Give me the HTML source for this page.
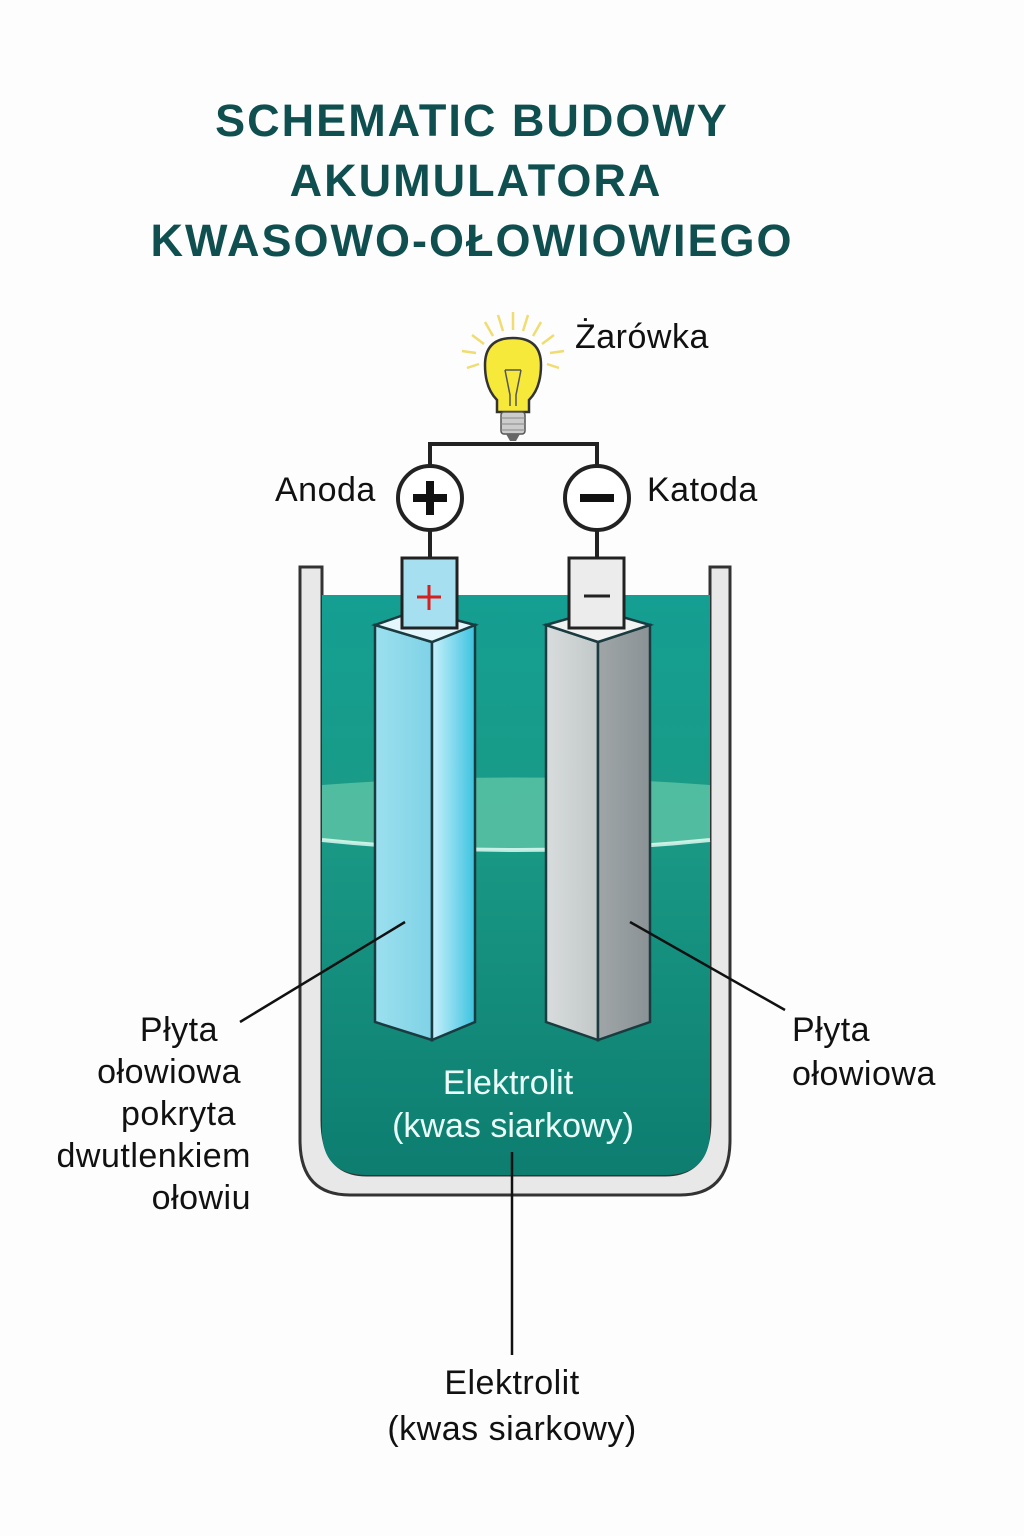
<!DOCTYPE html>
<html><head><meta charset="utf-8"><style>
body{margin:0;background:#fdfdfd;}
svg{display:block}
text{font-family:"Liberation Sans",sans-serif;}
</style></head><body>
<svg width="1024" height="1536" viewBox="0 0 1024 1536">
<defs>
<linearGradient id="liq" x1="0" y1="0" x2="0" y2="1">
<stop offset="0" stop-color="#149f92"/><stop offset="0.4" stop-color="#1a9a86"/><stop offset="1" stop-color="#0d7d70"/>
</linearGradient>
<linearGradient id="af" x1="0" x2="1"><stop offset="0" stop-color="#9be0ef"/><stop offset="1" stop-color="#7fd2e6"/></linearGradient>
<linearGradient id="as" x1="0" x2="1"><stop offset="0" stop-color="#c8f0fb"/><stop offset="1" stop-color="#3cc3e0"/></linearGradient>
<linearGradient id="cf" x1="0" x2="1"><stop offset="0" stop-color="#d8dcdc"/><stop offset="1" stop-color="#c2c8c8"/></linearGradient>
<linearGradient id="cs" x1="0" x2="1"><stop offset="0" stop-color="#a0a6a8"/><stop offset="1" stop-color="#8a9295"/></linearGradient>
</defs>
<g fill="#0f4f50" font-size="45" text-anchor="middle" font-weight="bold" letter-spacing="2">
<text x="472" y="136">SCHEMATIC BUDOWY</text>
<text x="476" y="196">AKUMULATORA</text>
<text x="472" y="256">KWASOWO-OŁOWIOWIEGO</text>
</g>
<!-- container -->
<path d="M300 567 H322 V1120 Q322 1175 367 1175 H665 Q710 1175 710 1120 V567 H730 V1140 Q730 1195 680 1195 H350 Q300 1195 300 1140 Z" fill="#e8e8e8" stroke="#333" stroke-width="3"/>
<path d="M322 595 H710 V1130 Q710 1175 665 1175 H367 Q322 1175 322 1130 Z" fill="url(#liq)"/>
<path d="M322 785 Q516 770 710 785 V840 Q516 860 322 840 Z" fill="#7fd8b4" opacity="0.55"/>
<path d="M322 840 Q516 860 710 840" stroke="#e8fff6" stroke-width="4" fill="none" opacity="0.8"/>
<!-- anode plate -->
<path d="M375 625 L432 642 L432 1040 L375 1022 Z" fill="url(#af)" stroke="#1a3b40" stroke-width="2.5"/>
<path d="M432 642 L475 625 L475 1022 L432 1040 Z" fill="url(#as)" stroke="#1a3b40" stroke-width="2.5"/>
<path d="M375 625 L418 610 L475 625 L432 642 Z" fill="#e3f7fc" stroke="#1a3b40" stroke-width="2.5"/>
<rect x="402" y="558" width="55" height="70" fill="#a6e0f0" stroke="#222" stroke-width="3"/>
<path d="M429 585 V610 M417 597 H441" stroke="#d42020" stroke-width="3"/>
<!-- cathode plate -->
<path d="M546 625 L598 642 L598 1040 L546 1022 Z" fill="url(#cf)" stroke="#1a3b40" stroke-width="2.5"/>
<path d="M598 642 L650 625 L650 1022 L598 1040 Z" fill="url(#cs)" stroke="#1a3b40" stroke-width="2.5"/>
<path d="M546 625 L598 610 L650 625 L598 642 Z" fill="#f2f2f2" stroke="#1a3b40" stroke-width="2.5"/>
<rect x="569" y="558" width="55" height="70" fill="#ececec" stroke="#222" stroke-width="3"/>
<path d="M584 596 H610" stroke="#222" stroke-width="3"/>
<!-- wires -->
<path d="M430 558 V530 M430 466 V444 H597 V466 M597 530 V558" stroke="#222" stroke-width="4" fill="none"/>
<circle cx="430" cy="498" r="32" fill="#fff" stroke="#222" stroke-width="4"/>
<path d="M430 481 V515 M413 498 H447" stroke="#111" stroke-width="8"/>
<circle cx="597" cy="498" r="32" fill="#fff" stroke="#222" stroke-width="4"/>
<path d="M580 498 H614" stroke="#111" stroke-width="8"/>
<!-- bulb -->
<g stroke="#f0dc70" stroke-width="2.5">
<path d="M513 312 V330 M498 315 L503 331 M528 315 L523 331 M485 322 L493 336 M541 322 L533 336 M472 335 L484 344 M554 335 L542 344 M462 351 L476 353 M564 351 L550 353 M467 368 L479 364 M559 368 L547 364"/>
</g>
<path d="M497 412 V400 Q485 388 485 365 Q485 338 513 338 Q541 338 541 365 Q541 388 529 400 V412 Z" fill="#f6e93a" stroke="#333" stroke-width="2.5"/>
<path d="M510 406 V395 L505 370 M516 406 V395 L521 370 M505 370 H521" stroke="#555" stroke-width="1.5" fill="none"/>
<rect x="501" y="412" width="24" height="22" rx="3" fill="#ccc" stroke="#555" stroke-width="1.5"/>
<path d="M501 418 H525 M501 424 H525 M501 430 H525" stroke="#888"/>
<path d="M506 434 H520 L516 441 H510 Z" fill="#666"/>
<!-- labels -->
<g font-size="34" fill="#111" letter-spacing="0.5">
<text x="575" y="348">Żarówka</text>
<text x="275" y="501">Anoda</text>
<text x="647" y="501">Katoda</text>
<g text-anchor="end">
<text x="218" y="1041">Płyta</text>
<text x="241" y="1083">ołowiowa</text>
<text x="236" y="1125">pokryta</text>
<text x="251" y="1167">dwutlenkiem</text>
<text x="251" y="1209">ołowiu</text>
</g>
<text x="792" y="1041">Płyta</text>
<text x="792" y="1085">ołowiowa</text>
<g text-anchor="middle">
<text x="512" y="1394">Elektrolit</text>
<text x="512" y="1440">(kwas siarkowy)</text>
</g>
</g>
<g font-size="34" fill="#eafff8" text-anchor="middle">
<text x="508" y="1094">Elektrolit</text>
<text x="513" y="1137">(kwas siarkowy)</text>
</g>
<path d="M240 1022 L405 922 M630 922 L785 1010 M512 1152 V1355" stroke="#111" stroke-width="2.5"/>
</svg>
</body></html>
